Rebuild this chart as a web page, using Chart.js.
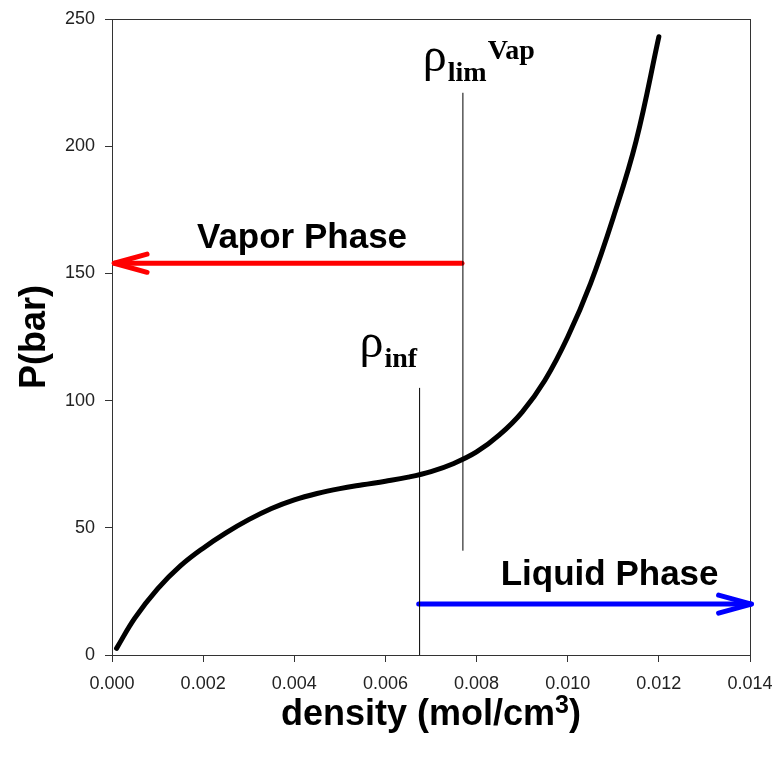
<!DOCTYPE html>
<html>
<head>
<meta charset="utf-8">
<script src="https://cdn.jsdelivr.net/npm/chart.js@4.4.1/dist/chart.umd.min.js"></script>
<style>
  html, body { margin: 0; padding: 0; background: #fff; }
  canvas { display: block; }
</style>
</head>
<body>
<canvas id="eos" width="774" height="761"></canvas>
<script>
// isotherm P vs density
const density = [0.0001, 0.0005, 0.001, 0.0015, 0.002, 0.0025, 0.003, 0.0035, 0.004, 0.0045,
  0.005, 0.0055, 0.006, 0.0065, 0.007, 0.0075, 0.008, 0.0085, 0.009, 0.0095,
  0.010, 0.0105, 0.011, 0.0115, 0.012];
const pressure = [2.6, 14.5, 26, 35, 42, 48, 53.2, 57.6, 61, 63.5,
  65.4, 66.9, 68.3, 69.9, 72.1, 75.3, 79.8, 86.5, 95.5, 108,
  125, 146, 172, 202, 243];

const xTicks = [0, 0.002, 0.004, 0.006, 0.008, 0.010, 0.012, 0.014];
const yTicks = [0, 50, 100, 150, 200, 250];

// marker lines (x, [y from, y to])
const rhoInf = 0.00675, rhoInfSpan = [0, 105];
const rhoLim = 0.0077, rhoLimSpan = [41, 221];

// phase arrows: [start, tip] along x at a fixed pressure
const vaporX = [0.00768, 0.00005], vaporP = 154;
const liquidX = [0.00673, 0.01403], liquidP = 20;

const SANS = 'Arial, "Liberation Sans", sans-serif';
const SERIF = '"Times New Roman", "Liberation Serif", serif';

function pts(xs, ys) {
  return xs.map((v, i) => ({ x: v, y: Array.isArray(ys) ? ys[i] : ys }));
}

const decor = {
  id: 'decor',
  beforeDatasetsDraw(chart) {
    const { ctx, chartArea: a } = chart;
    ctx.save();
    ctx.strokeStyle = '#333';
    ctx.lineWidth = 1;
    ctx.strokeRect(Math.round(a.left) + 0.5, Math.round(a.top) + 0.5,
      Math.round(a.right - a.left), Math.round(a.bottom - a.top));
    ctx.restore();
  },
  afterDatasetsDraw(chart) {
    const { ctx, scales: { x, y } } = chart;
    ctx.save();

    // arrow heads at the tip of each phase arrow
    [['#ff0000', vaporX, vaporP], ['#0000ff', liquidX, liquidP]].forEach(([col, xs, p]) => {
      const tx = x.getPixelForValue(xs[1]), ty = y.getPixelForValue(p);
      const dir = Math.sign(xs[1] - xs[0]);
      const len = 34, ang = 0.27;
      ctx.strokeStyle = col;
      ctx.lineWidth = 5;
      ctx.lineCap = 'round';
      ctx.lineJoin = 'round';
      ctx.beginPath();
      ctx.moveTo(tx - dir * len * Math.cos(ang), ty - len * Math.sin(ang));
      ctx.lineTo(tx, ty);
      ctx.lineTo(tx - dir * len * Math.cos(ang), ty + len * Math.sin(ang));
      ctx.stroke();
    });

    // phase labels
    ctx.fillStyle = '#000';
    ctx.font = 'bold 35px ' + SANS;
    ctx.textAlign = 'center';
    ctx.textBaseline = 'alphabetic';
    ctx.fillText('Vapor Phase', x.getPixelForValue(0.00417), y.getPixelForValue(160));
    ctx.fillText('Liquid Phase', x.getPixelForValue(0.01092), y.getPixelForValue(27.5));

    // rho labels
    ctx.textAlign = 'left';
    function rho(px, py, sub, sup) {
      ctx.font = '48px ' + SERIF;
      ctx.fillText('ρ', px, py);
      let cx = px + ctx.measureText('ρ').width + 1;
      ctx.font = 'bold 28px ' + SERIF;
      ctx.fillText(sub, cx, py + 10);
      cx += ctx.measureText(sub).width + 1;
      if (sup) ctx.fillText(sup, cx, py - 12);
    }
    rho(x.getPixelForValue(0.00682), y.getPixelForValue(229.5), 'lim', 'Vap');
    rho(x.getPixelForValue(0.00543), y.getPixelForValue(117), 'inf');

    // x axis title with superscript
    const cxT = (x.left + x.right) / 2;
    const base = 725;
    ctx.font = 'bold 36px ' + SANS;
    const w1 = ctx.measureText('density (mol/cm').width;
    const w3 = ctx.measureText(')').width;
    ctx.font = 'bold 25px ' + SANS;
    const w2 = ctx.measureText('3').width;
    let sx = cxT - (w1 + w2 + w3) / 2;
    ctx.font = 'bold 36px ' + SANS;
    ctx.fillText('density (mol/cm', sx, base);
    ctx.font = 'bold 25px ' + SANS;
    ctx.fillText('3', sx + w1, base - 12);
    ctx.font = 'bold 36px ' + SANS;
    ctx.fillText(')', sx + w1 + w2, base);

    ctx.restore();
  }
};

const line = (data, color, width, extra) => Object.assign({
  data, borderColor: color, borderWidth: width, pointRadius: 0,
  fill: false, clip: false, borderCapStyle: 'round'
}, extra || {});

new Chart(document.getElementById('eos'), {
  type: 'line',
  data: {
    datasets: [
      line(pts(density, pressure), '#000', 5, { tension: 0.4 }),
      line(pts([rhoInf, rhoInf], rhoInfSpan), '#000', 1, { borderCapStyle: 'butt' }),
      line(pts([rhoLim, rhoLim], rhoLimSpan), '#000', 1, { borderCapStyle: 'butt' }),
      line(pts(vaporX, vaporP), '#ff0000', 5),
      line(pts(liquidX, liquidP), '#0000ff', 5)
    ]
  },
  options: {
    responsive: false,
    animation: false,
    devicePixelRatio: 1,
    layout: { padding: { top: 19, right: 24, bottom: 0, left: 0 } },
    plugins: { legend: { display: false }, tooltip: { enabled: false } },
    scales: {
      x: {
        type: 'linear', min: 0, max: 0.014,
        afterFit(s) { s.height = 106; s.paddingLeft = 0; s.paddingRight = 0; },
        afterBuildTicks(s) { s.ticks = xTicks.map(v => ({ value: v })); },
        grid: { drawOnChartArea: false, drawTicks: true, tickLength: 7, color: '#333' },
        border: { display: false },
        ticks: {
          padding: 11, color: '#222', maxRotation: 0,
          font: { family: SANS, size: 18 },
          callback: v => v.toFixed(3)
        },
        title: { display: false }
      },
      y: {
        min: 0, max: 250,
        afterFit(s) { s.width = 112; s.paddingTop = 0; s.paddingBottom = 0; },
        afterBuildTicks(s) { s.ticks = yTicks.map(v => ({ value: v })); },
        grid: { drawOnChartArea: false, drawTicks: true, tickLength: 7, color: '#333' },
        border: { display: false },
        ticks: { padding: 10, color: '#222', font: { family: SANS, size: 18 } },
        title: {
          display: true, text: 'P(bar)', color: '#000',
          font: { family: SANS, size: 36, weight: 'bold' },
          padding: { top: 13, bottom: 0 }
        }
      }
    }
  },
  plugins: [decor]
});
</script>
</body>
</html>
